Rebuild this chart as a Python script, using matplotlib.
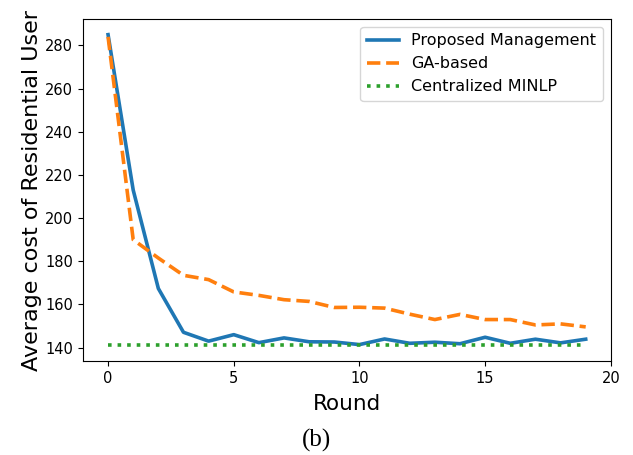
import numpy as np
import matplotlib
matplotlib.use("Agg")
import matplotlib.pyplot as plt

rounds = list(range(20))
proposed = [285, 213, 167.4, 147.1, 143, 146, 142.3, 144.5, 142.7, 142.6,
            141.4, 144, 142, 142.5, 141.8, 144.8, 142, 143.9, 142.2, 143.9]
ga_based = [284, 190, 181.5, 173.5, 171.5, 165.8, 164.2, 162.2, 161.4, 158.6,
            158.7, 158.3, 155.5, 153, 155.4, 153, 153, 150.5, 151, 149.6]
centralized = [141] * 20

def plot_data():
    fig = plt.figure(figsize=(6.33, 4.55), dpi=100)
    ax = fig.add_axes([0.131, 0.2066, 0.834, 0.7514])
    ax.plot(rounds, proposed, color="#1f77b4", lw=2.6, label="Proposed Management")
    ax.plot(rounds, ga_based, color="#ff7f0e", lw=2.6, ls="--", label="GA-based")
    ax.plot(rounds, centralized, color="#2ca02c", lw=2.6, ls=":", label="Centralized MINLP")
    ax.set_xlim(-1, 20)
    ax.set_xticks([0, 5, 10, 15, 20])
    ax.set_yticks(np.arange(140, 281, 20))
    ax.tick_params(labelsize=10.5)
    ax.set_xlabel("Round", fontsize=15.5, labelpad=6)
    ax.set_ylabel("Average cost of Residential User", fontsize=16, labelpad=2)
    ax.legend(loc="upper right", fontsize=11.5)
    fig.text(0.5, 0.033, "(b)", ha="center", va="center",
             family="Liberation Serif", fontsize=18)
    fig.savefig("out.png", dpi=100)

def main():
    plot_data()

if __name__ == "__main__":
    main()
